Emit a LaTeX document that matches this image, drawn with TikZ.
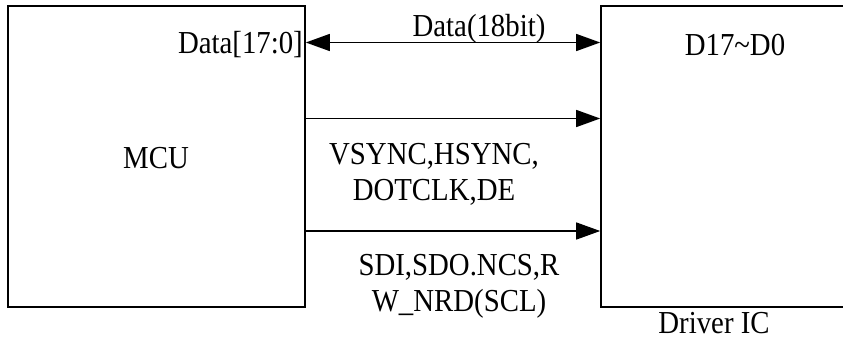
\documentclass[tikz,border=0pt]{standalone}
\usepackage{fontspec}
\setmainfont[FakeStretch=0.9]{Liberation Serif}
\usetikzlibrary{arrows.meta}
\begin{document}
\begin{tikzpicture}[x=1pt,y=-1pt,
  block/.style={draw,line width=1.6pt,inner sep=0pt},
  sig/.style={line width=1.4pt,-{Triangle[length=24pt,width=17pt]}},
  bisig/.style={line width=1.4pt,{Triangle[length=24pt,width=17pt]}-{Triangle[length=24pt,width=17pt]}},
  lbl/.style={inner sep=0pt,font=\fontsize{32}{36}\selectfont,align=center}]
\useasboundingbox (0,0) rectangle (843,343);
% the two blocks
\node[block,minimum width=297pt,minimum height=301pt] (mcu) at (156.5,156.5) {};
\node[block,minimum width=259pt,minimum height=301pt] (drv) at (730.5,156.5) {};
% signal rows
\coordinate (r1) at (0,42.5);
\coordinate (r2) at (0,118.5);
\coordinate (r3) at (0,231);
\draw[bisig] (mcu.east |- r1) -- (drv.west |- r1);
\draw[sig] (mcu.east |- r2) -- (drv.west |- r2);
\draw[sig] (mcu.east |- r3) -- (drv.west |- r3);
% labels
\node[lbl,anchor=base east] (port) at (303,53) {Data[17:0]};
\node[lbl,anchor=base] (bus) at (479,36) {Data(18bit)};
\node[lbl,anchor=base] (mcuname) at (156,168) {MCU};
\node[lbl,anchor=base] (pins) at (735,55) {D17\textasciitilde D0};
\node[lbl,anchor=base] (drvname) at (714,333) {Driver IC};
\node[lbl,anchor=north] (sync) at (434,143) {VSYNC,HSYNC,\\DOTCLK,DE};
\node[lbl,anchor=north] (serial) at (459,254) {SDI,SDO.NCS,R\\W\_NRD(SCL)};
\end{tikzpicture}
\end{document}
